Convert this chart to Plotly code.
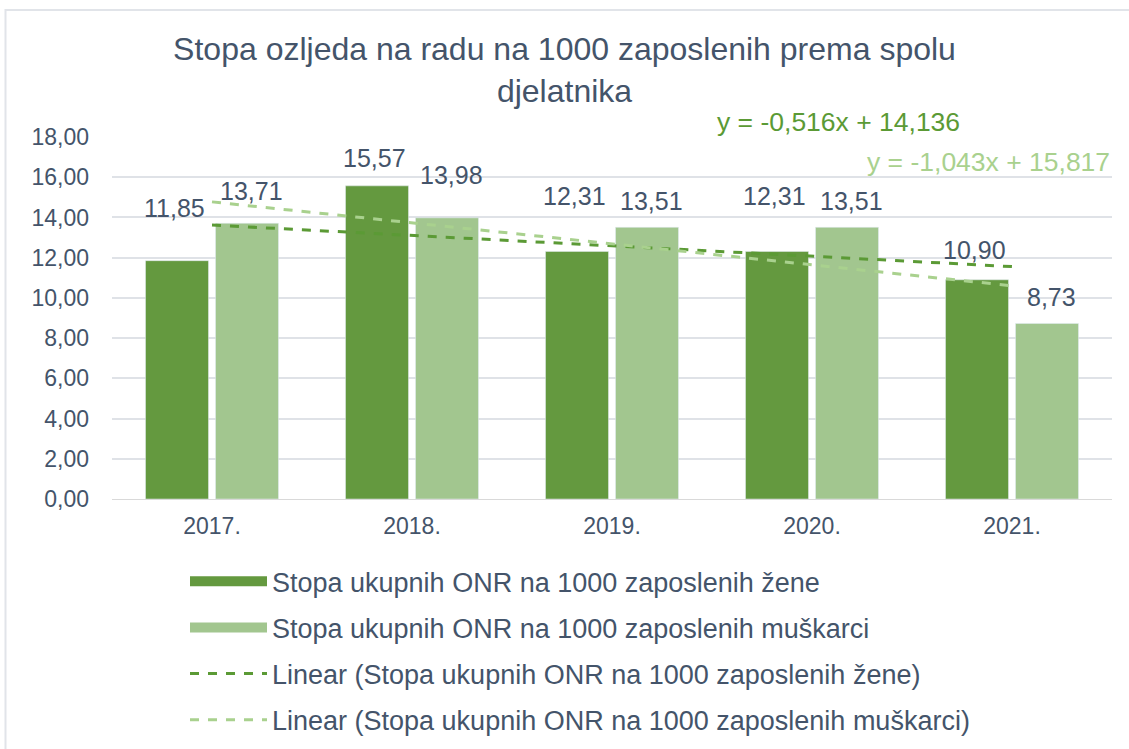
import plotly.graph_objects as go

years = ["2017.", "2018.", "2019.", "2020.", "2021."]
zene = [11.85, 15.57, 12.31, 12.31, 10.90]
muskarci = [13.71, 13.98, 13.51, 13.51, 8.73]
trend_zene_coef = (-0.516, 14.136)
trend_musk_coef = (-1.043, 15.817)
name_z = "Stopa ukupnih ONR na 1000 zaposlenih žene"
name_m = "Stopa ukupnih ONR na 1000 zaposlenih muškarci"
label_shift_z = [37, 12, 39, 39, 14]
label_shift_m = [16, 27, 10, 10, 10]

TXT = "#44546A"
C_Z = "#64993F"
C_M = "#A2C68F"
C_TZ = "#5B9A35"
C_TM = "#A9D18E"
FONT = "Liberation Sans, Arial, sans-serif"

idx = list(range(1, len(years) + 1))
tz = [trend_zene_coef[0] * i + trend_zene_coef[1] for i in idx]
tm = [trend_musk_coef[0] * i + trend_musk_coef[1] for i in idx]

fig = go.Figure()
fig.add_bar(x=years, y=zene, name=name_z, marker_color=C_Z, showlegend=False)
fig.add_bar(x=years, y=muskarci, name=name_m, marker_color=C_M, showlegend=False)
fig.add_scatter(x=years, y=tz, mode="lines", name="Linear (" + name_z + ")",
                line=dict(color=C_TZ, width=3, dash="dash"), showlegend=False)
fig.add_scatter(x=years, y=tm, mode="lines", name="Linear (" + name_m + ")",
                line=dict(color=C_TM, width=3, dash="dash"), showlegend=False)
# legend entries (wide swatches like the original)
fig.add_scatter(x=[None], y=[None], mode="lines", name=name_z,
                line=dict(color=C_Z, width=14), legendgroup="a")
fig.add_scatter(x=[None], y=[None], mode="lines", name=name_m,
                line=dict(color=C_M, width=14), legendgroup="b")
fig.add_scatter(x=[None], y=[None], mode="lines", name="Linear (" + name_z + ")",
                line=dict(color=C_TZ, width=3, dash="dash"), legendgroup="c")
fig.add_scatter(x=[None], y=[None], mode="lines", name="Linear (" + name_m + ")",
                line=dict(color=C_TM, width=3, dash="dash"), legendgroup="d")

ann = []
for i, y in enumerate(years):
    ann.append(dict(x=i, y=zene[i], xref="x", yref="y", text=f"{zene[i]:.2f}".replace(".", ","),
                    showarrow=False, xshift=-38, yshift=label_shift_z[i], yanchor="bottom",
                    font=dict(size=25, color=TXT, family=FONT)))
    ann.append(dict(x=i, y=muskarci[i], xref="x", yref="y", text=f"{muskarci[i]:.2f}".replace(".", ","),
                    showarrow=False, xshift=39, yshift=label_shift_m[i], yanchor="bottom",
                    font=dict(size=25, color=TXT, family=FONT)))

def eq(c):
    a, b = c
    return ("y = " + f"{a:.3f}".replace(".", ",") + "x + " + f"{b:.3f}".replace(".", ","))

ann.append(dict(x=0.726, y=1.041, xref="paper", yref="paper", text=eq(trend_zene_coef), showarrow=False,
                xanchor="center", yanchor="middle", font=dict(size=26.5, color=C_TZ, family=FONT)))
ann.append(dict(x=1.0, y=0.931, xref="paper", yref="paper", text=eq(trend_musk_coef), showarrow=False,
                xanchor="right", yanchor="middle", font=dict(size=26.5, color=C_TM, family=FONT)))

fig.update_layout(
    width=1129, height=749,
    paper_bgcolor="white", plot_bgcolor="white",
    margin=dict(l=112, r=17, t=137, b=250, autoexpand=False),
    separators=", ",
    barmode="group", bargap=0.3, bargroupgap=0.1,
    title=dict(text="Stopa ozljeda na radu na 1000 zaposlenih prema spolu<br>djelatnika",
               x=0.5, xanchor="center", y=0.92, yanchor="top",
               font=dict(size=32, color=TXT, family=FONT)),
    font=dict(family=FONT, color=TXT),
    xaxis=dict(type="category", range=[-0.5, 4.5], showgrid=False, showline=True, linecolor="#D9D9D9",
               tickfont=dict(size=23, color=TXT), ticks="", ticklabelstandoff=6),
    yaxis=dict(range=[0, 18], dtick=2, tickformat=".2f", showgrid=True, gridcolor="#DFE2E7",
               gridwidth=1.5, zeroline=False, tickfont=dict(size=23, color=TXT), ticks="",
               ticklabelstandoff=22),
    legend=dict(orientation="v", x=0.073, xanchor="left", y=-0.161, yanchor="top",
                font=dict(size=27, color=TXT, family=FONT), tracegroupgap=8,
                traceorder="grouped", itemwidth=77, bgcolor="rgba(0,0,0,0)"),
    showlegend=True,
    annotations=ann,
    shapes=[dict(type="rect", xref="paper", yref="paper", x0=-0.1065, x1=1.03, y0=-0.75, y1=1.3508,
                 line=dict(color="#E1E4E9", width=2), fillcolor="rgba(0,0,0,0)", layer="below")],
)
fig.write_html("out.html", config={"displayModeBar": False},
               post_script="document.body.style.margin='0px';document.body.style.overflow='hidden';")
